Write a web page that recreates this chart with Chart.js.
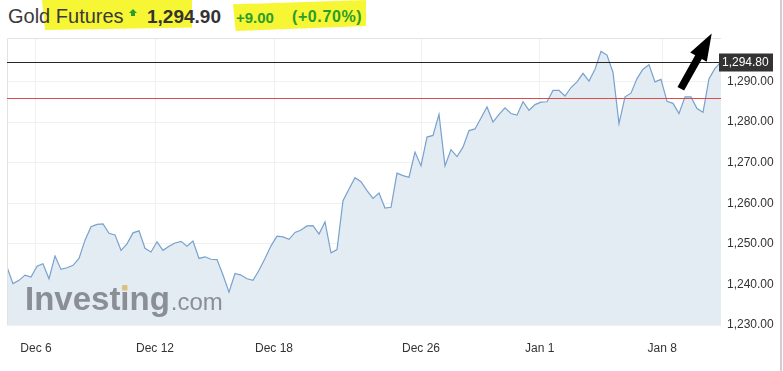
<!DOCTYPE html>
<html>
<head>
<meta charset="utf-8">
<script src="https://cdn.jsdelivr.net/npm/chart.js@4.4.1/dist/chart.umd.min.js"></script>
<style>
  html, body { margin: 0; padding: 0; background: #fff; }
  #wrap { position: relative; width: 783px; height: 371px; overflow: hidden; font-family: Arial, "Liberation Sans", sans-serif; }
  #chart { position: absolute; left: 0; top: 0; }
  .hl { position: absolute; background: #f7f634; }
  #hl1 { left: 42px; top: 0; width: 150px; height: 30px; clip-path: polygon(0 0, 100% 0, 100% 92%, 2% 100%); }
  #hl2 { left: 233px; top: 0; width: 133px; height: 31px; clip-path: polygon(0 14%, 100% 0, 100% 84%, 2% 100%); }
  .hdr { position: absolute; line-height: 1; white-space: nowrap; }
  #name { left: 8px; top: 6px; font-size: 20px; color: #3a3a3a; }
  #price { left: 147px; top: 7px; font-size: 19px; font-weight: bold; color: #333; }
  #chg { left: 236px; top: 10px; font-size: 15px; font-weight: bold; color: #2a9d2a; }
  #pct { left: 292px; top: 9px; font-size: 16px; font-weight: bold; color: #2a9d2a; letter-spacing: 0.6px; }
  #up { position: absolute; left: 129px; top: 9px; width: 0; height: 0; border-left: 4px solid transparent; border-right: 4px solid transparent; border-bottom: 4px solid #2a9d2a; }
  #upStem { position: absolute; left: 131px; top: 13px; width: 4px; height: 3px; background: #2a9d2a; }
  #edge { position: absolute; left: 780px; top: 0; width: 2px; height: 371px; background: #cfcfcf; }
</style>
</head>
<body>
<div id="wrap">
  <div class="hl" id="hl1"></div>
  <div class="hl" id="hl2"></div>
  <span class="hdr" id="name">Gold Futures</span>
  <div id="up"></div><div id="upStem"></div>
  <span class="hdr" id="price">1,294.90</span>
  <span class="hdr" id="chg">+9.00</span>
  <span class="hdr" id="pct">(+0.70%)</span>
  <canvas id="chart" width="783" height="371"></canvas>
  <div id="edge"></div>
</div>
<script>
// one value per bar
const prices = [
  1244.3, 1240.2, 1241.0, 1242.3, 1241.8, 1244.5, 1245.1, 1241.4, 1247.0, 1243.7,
  1244.1, 1244.7, 1246.4, 1250.9, 1254.2, 1254.8, 1254.9, 1252.6, 1252.2, 1248.4,
  1250.0, 1252.7, 1253.2, 1248.9, 1248.0, 1250.5, 1248.4, 1249.4, 1250.2, 1250.6,
  1249.4, 1250.7, 1246.4, 1246.8, 1246.2, 1246.1, 1242.3, 1238.1, 1242.7, 1242.3,
  1241.4, 1241.0, 1243.5, 1246.4, 1249.5, 1251.9, 1251.7, 1251.1, 1252.8, 1253.4,
  1254.4, 1254.5, 1252.4, 1255.4, 1247.8, 1248.6, 1260.6, 1263.5, 1266.3, 1265.3,
  1263.1, 1261.2, 1262.5, 1258.8, 1259.0, 1267.4, 1266.8, 1266.4, 1272.6, 1269.2,
  1276.3, 1276.7, 1281.9, 1269.2, 1273.2, 1271.5, 1273.8, 1277.9, 1278.3, 1281.0,
  1283.7, 1280.0, 1281.9, 1283.5, 1282.1, 1281.7, 1285.0, 1282.9, 1284.3, 1284.9,
  1285.0, 1287.8, 1287.8, 1286.4, 1288.5, 1289.9, 1292.0, 1290.1, 1293.0, 1297.4,
  1296.5, 1292.2, 1279.6, 1286.2, 1287.1, 1290.7, 1293.0, 1294.1, 1289.9, 1290.5,
  1285.1, 1284.6, 1282.1, 1286.2, 1286.2, 1283.3, 1282.4, 1290.7, 1293.2, 1294.8
];
// where each date label falls, in bars
const tickPos = [4.83, 24.67, 44.5, 69, 88.8, 109.2];
const tickLabels = ["Dec 6", "Dec 12", "Dec 18", "Dec 26", "Jan 1", "Jan 8"];
const yTicks = [1230, 1240, 1250, 1260, 1270, 1280, 1290];
const lastPrice = 1294.80;
const prevClose = 1285.90;

const fmt = v => v.toLocaleString("en-US", { minimumFractionDigits: 2, maximumFractionDigits: 2 });

const overlay = {
  id: "overlay",
  beforeDatasetsDraw(chart) {
    // watermark sits on the fill, under the line
    const ctx = chart.ctx;
    ctx.save();
    ctx.fillStyle = "#8a8f95";
    ctx.font = "bold 33px Arial";
    ctx.textBaseline = "alphabetic";
    ctx.fillText("Investing", 25, 310);
    const w = ctx.measureText("Investing").width;
    const pre = ctx.measureText("Invest").width;
    ctx.fillStyle = "#dfc07a";
    ctx.fillRect(25 + pre + 2, 285, 5, 5.5);
    ctx.fillStyle = "#8a8f95";
    ctx.font = "24px Arial";
    ctx.fillText(".com", 25 + w + 1, 310);
    ctx.restore();
  },
  afterDatasetsDraw(chart) {
    const ctx = chart.ctx;
    const area = chart.chartArea;
    const xs = chart.scales.x, ys = chart.scales.y;
    ctx.save();

    // plot frame
    ctx.strokeStyle = "#e3e3e3";
    ctx.lineWidth = 1;
    ctx.beginPath();
    ctx.moveTo(area.left + 0.5, area.bottom);
    ctx.lineTo(area.left + 0.5, area.top + 0.5);
    ctx.lineTo(area.right, area.top + 0.5);
    ctx.stroke();

    // previous close
    const yPrev = Math.round(ys.getPixelForValue(prevClose)) + 0.5;
    ctx.strokeStyle = "#dd4b4b";
    ctx.beginPath();
    ctx.moveTo(area.left, yPrev);
    ctx.lineTo(area.right, yPrev);
    ctx.stroke();

    // last price line + tag
    const yLast = Math.round(ys.getPixelForValue(lastPrice)) + 0.5;
    ctx.strokeStyle = "#262626";
    ctx.beginPath();
    ctx.moveTo(area.left, yLast);
    ctx.lineTo(area.right, yLast);
    ctx.stroke();
    ctx.fillStyle = "#333";
    ctx.fillRect(area.right - 2, yLast - 9, 54, 18);
    ctx.fillStyle = "#fff";
    ctx.font = "12px Arial";
    ctx.textBaseline = "middle";
    ctx.fillText(fmt(lastPrice), area.right + 1, yLast + 0.5);

    // hand-drawn arrow
    const tx = xs.getPixelForValue(112.3), ty = ys.getPixelForValue(1288.2);
    const hx = xs.getPixelForValue(117.45), hy = ys.getPixelForValue(1301.8);
    const len = Math.hypot(hx - tx, hy - ty);
    const ux = (hx - tx) / len, uy = (hy - ty) / len;
    const nx = -uy, ny = ux;
    const sw = 3.8, hw = 9.5, hl = 27;
    const bx = hx - ux * hl, by = hy - uy * hl;
    ctx.fillStyle = "#000";
    ctx.beginPath();
    ctx.moveTo(tx + nx * sw, ty + ny * sw);
    ctx.lineTo(bx + nx * sw, by + ny * sw);
    ctx.lineTo(bx + nx * hw, by + ny * hw);
    ctx.lineTo(hx, hy);
    ctx.lineTo(bx - nx * hw, by - ny * hw);
    ctx.lineTo(bx - nx * sw, by - ny * sw);
    ctx.lineTo(tx - nx * sw, ty - ny * sw);
    ctx.closePath();
    ctx.fill();

    ctx.restore();
  }
};

new Chart(document.getElementById("chart"), {
  type: "line",
  data: {
    datasets: [{
      data: prices.map((p, i) => ({ x: i, y: p })),
      borderColor: "#78a2cd",
      borderWidth: 1.2,
      backgroundColor: "#e3ebf3",
      fill: "start",
      tension: 0,
      pointRadius: 0
    }]
  },
  options: {
    responsive: false,
    animation: false,
    events: [],
    layout: { padding: { left: 7, top: 38, right: 0, bottom: 0 } },
    plugins: {
      legend: { display: false },
      tooltip: { enabled: false },
      filler: { drawTime: "beforeDatasetsDraw" }
    },
    scales: {
      x: {
        type: "linear",
        min: 0,
        max: prices.length - 1,
        grid: { color: "#f0f0f0", drawTicks: false },
        border: { display: false },
        afterBuildTicks: s => { s.ticks = tickPos.map(v => ({ value: v })); },
        afterFit: s => { s.height = 46; },
        ticks: {
          autoSkip: false,
          maxRotation: 0,
          padding: 16,
          color: "#333",
          font: { family: "Arial", size: 12 },
          callback: (v, i) => tickLabels[i]
        }
      },
      y: {
        position: "right",
        min: 1230,
        max: 1300.7,
        grid: { color: "#f0f0f0", drawTicks: false },
        border: { display: false },
        afterBuildTicks: s => { s.ticks = yTicks.map(v => ({ value: v })); },
        afterFit: s => { s.width = 62; },
        ticks: {
          padding: 6,
          color: "#333",
          font: { family: "Arial", size: 12 },
          callback: v => fmt(v)
        }
      }
    }
  },
  plugins: [overlay]
});
</script>
</body>
</html>
